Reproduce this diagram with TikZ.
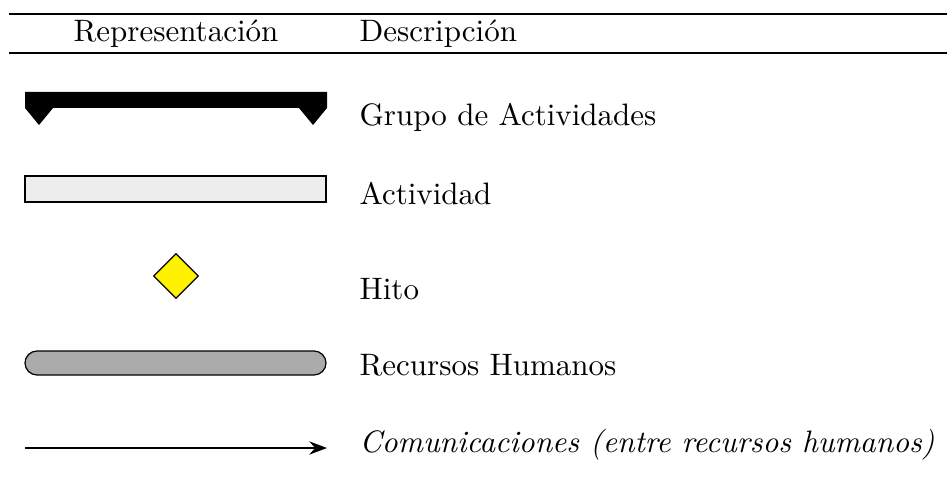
\documentclass[tikz,border=0pt]{standalone}
\usetikzlibrary{shapes.geometric,arrows.meta}
\begin{document}
\begin{tikzpicture}[
x = 0.3226pt, y = -0.3226pt,
desc/.style = {anchor = base west, inner sep = 0pt},
hdr/.style = {anchor = base, inner sep = 0pt},
bar/.style = {draw = black, minimum width = 97.1pt, inner sep = 0pt},
]
\useasboundingbox (0,0) rectangle (947,495);
\draw (9,14) -- (947,14);
\draw (9,53) -- (947,53);
\node [hdr] (h1) at (176,42) {Representación};
\node [desc] (h2) at (359,42) {Descripción};

\fill[black] (25,92) -- (327,92) -- (327,108) -- (313,125) -- (299,108)
  -- (53,108) -- (39,125) -- (25,108) -- cycle;
\node [bar, fill = black!7, minimum height = 8.39pt] (act) at (175.5,189) {};
\node [diamond, draw = black, fill = yellow, inner sep = 0pt,
  minimum size = 14.5pt] (hito) at (176,276) {};
\node [bar, fill = black!33, rounded corners = 3.87pt,
  minimum height = 7.74pt] (rh) at (175.5,363) {};
\coordinate (c1) at (25,448);
\coordinate (c2) at (327,448);
\path[-{Stealth}, draw = black, semithick] (c1) -- (c2) ;

\node [desc] (d1) at (359,126) {Grupo de Actividades};
\node [desc] (d2) at (359,204) {Actividad};
\node [desc] (d3) at (359,299) {Hito};
\node [desc] (d4) at (359,375) {Recursos Humanos};
\node [desc] (d5) at (359,452) {\textit{Comunicaciones (entre recursos humanos)}};

\end{tikzpicture}
\end{document}
